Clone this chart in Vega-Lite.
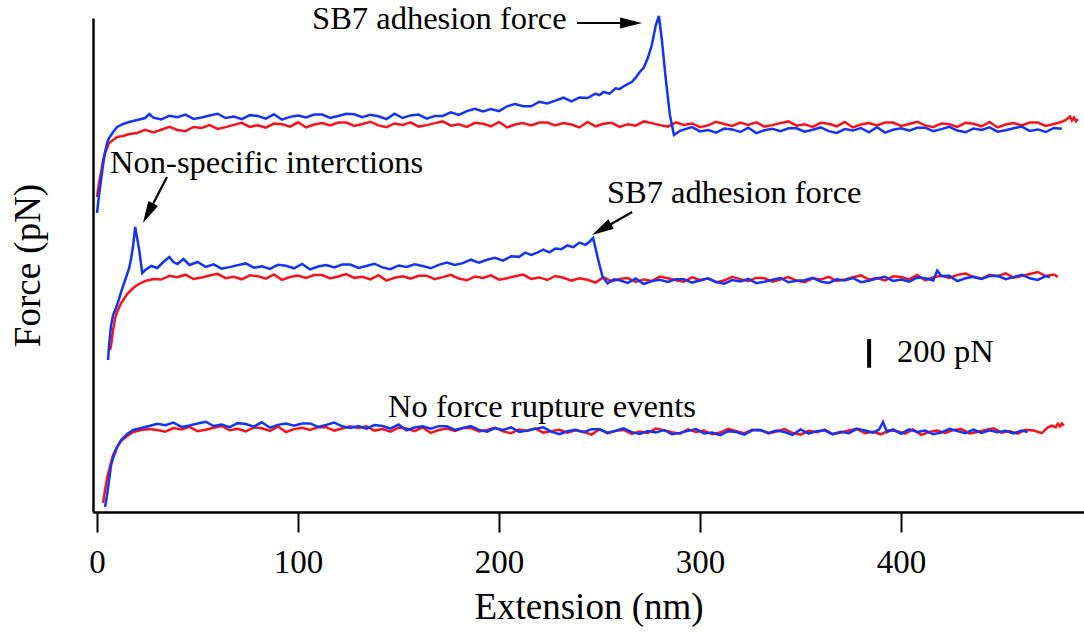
{
"$schema":"https://vega.github.io/schema/vega-lite/v6.json",
"width":991,"height":494,
"autosize":"none",
"padding":{"left":93,"top":18,"right":0,"bottom":121},
"background":"white",
"config":{"view":{"stroke":null},"font":"Liberation Serif","axis":{"grid":false}},
"datasets":{
"red":[
{"g":1,"x":0,"y":2205},{"g":1,"x":1,"y":2303},{"g":1,"x":2,"y":2380},{"g":1,"x":3,"y":2464},{"g":1,"x":4,"y":2513},{"g":1,"x":5,"y":2548},{"g":1,"x":6,"y":2583},{"g":1,"x":8,"y":2604},{"g":1,"x":10,"y":2625},{"g":1,"x":13,"y":2632},{"g":1,"x":16,"y":2646},{"g":1,"x":20,"y":2653},
{"g":1,"x":24,"y":2676},{"g":1,"x":28,"y":2657},{"g":1,"x":32,"y":2676},{"g":1,"x":36,"y":2696},{"g":1,"x":40,"y":2674},{"g":1,"x":44,"y":2666},{"g":1,"x":48,"y":2695},{"g":1,"x":52,"y":2688},{"g":1,"x":56,"y":2709},{"g":1,"x":60,"y":2682},{"g":1,"x":64,"y":2694},{"g":1,"x":68,"y":2710},{"g":1,"x":72,"y":2724},{"g":1,"x":76,"y":2696},{"g":1,"x":80,"y":2707},{"g":1,"x":84,"y":2690},{"g":1,"x":88,"y":2719},{"g":1,"x":92,"y":2714},{"g":1,"x":96,"y":2697},{"g":1,"x":100,"y":2728},
{"g":1,"x":104,"y":2692},{"g":1,"x":108,"y":2712},{"g":1,"x":112,"y":2722},{"g":1,"x":116,"y":2706},{"g":1,"x":120,"y":2726},{"g":1,"x":124,"y":2726},{"g":1,"x":128,"y":2702},{"g":1,"x":132,"y":2716},{"g":1,"x":136,"y":2732},{"g":1,"x":140,"y":2706},{"g":1,"x":144,"y":2694},{"g":1,"x":148,"y":2720},{"g":1,"x":152,"y":2710},{"g":1,"x":156,"y":2728},{"g":1,"x":160,"y":2698},{"g":1,"x":164,"y":2708},{"g":1,"x":168,"y":2722},{"g":1,"x":172,"y":2734},{"g":1,"x":176,"y":2704},{"g":1,"x":180,"y":2714},{"g":1,"x":184,"y":2696},{"g":1,"x":188,"y":2724},{"g":1,"x":192,"y":2718},{"g":1,"x":196,"y":2700},{"g":1,"x":200,"y":2730},
{"g":1,"x":204,"y":2692},{"g":1,"x":208,"y":2712},{"g":1,"x":212,"y":2722},{"g":1,"x":216,"y":2706},{"g":1,"x":220,"y":2726},{"g":1,"x":224,"y":2726},{"g":1,"x":228,"y":2706},{"g":1,"x":232,"y":2722},{"g":1,"x":236,"y":2712},{"g":1,"x":240,"y":2692},{"g":1,"x":244,"y":2730},{"g":1,"x":248,"y":2700},{"g":1,"x":252,"y":2718},{"g":1,"x":256,"y":2724},{"g":1,"x":260,"y":2696},{"g":1,"x":264,"y":2714},{"g":1,"x":268,"y":2704},{"g":1,"x":272,"y":2734},{"g":1,"x":276,"y":2722},{"g":1,"x":280,"y":2708},{"g":1,"x":284,"y":2698},{"g":1,"x":288,"y":2728},{"g":1,"x":292,"y":2710},{"g":1,"x":296,"y":2720},{"g":1,"x":300,"y":2694},
{"g":1,"x":304,"y":2706},{"g":1,"x":308,"y":2732},{"g":1,"x":312,"y":2716},{"g":1,"x":316,"y":2702},{"g":1,"x":320,"y":2726},{"g":1,"x":324,"y":2710},{"g":1,"x":328,"y":2728},{"g":1,"x":332,"y":2698},{"g":1,"x":336,"y":2708},{"g":1,"x":340,"y":2722},{"g":1,"x":344,"y":2734},{"g":1,"x":348,"y":2704},{"g":1,"x":352,"y":2714},{"g":1,"x":356,"y":2696},{"g":1,"x":360,"y":2724},{"g":1,"x":364,"y":2718},{"g":1,"x":368,"y":2700},{"g":1,"x":372,"y":2730},{"g":1,"x":376,"y":2692},{"g":1,"x":380,"y":2712},{"g":1,"x":384,"y":2722},{"g":1,"x":388,"y":2706},{"g":1,"x":392,"y":2726},{"g":1,"x":396,"y":2726},{"g":1,"x":400,"y":2702},
{"g":1,"x":404,"y":2716},{"g":1,"x":408,"y":2732},{"g":1,"x":412,"y":2706},{"g":1,"x":416,"y":2694},{"g":1,"x":420,"y":2720},{"g":1,"x":424,"y":2714},{"g":1,"x":428,"y":2696},{"g":1,"x":432,"y":2724},{"g":1,"x":436,"y":2718},{"g":1,"x":440,"y":2700},{"g":1,"x":444,"y":2730},{"g":1,"x":448,"y":2692},{"g":1,"x":452,"y":2712},{"g":1,"x":456,"y":2722},{"g":1,"x":460,"y":2706},{"g":1,"x":464,"y":2726},{"g":1,"x":468,"y":2726},{"g":1,"x":472,"y":2702},{"g":1,"x":476,"y":2716},{"g":1,"x":480,"y":2732},{"g":1,"x":482,"y":2745},{"g":1,"x":484,"y":2768},{"g":1,"x":485,"y":2740},{"g":1,"x":486,"y":2762},{"g":1,"x":487,"y":2735},{"g":1,"x":488,"y":2750},
{"g":2,"x":6.5,"y":1134},{"g":2,"x":7,"y":1169},{"g":2,"x":8,"y":1274},{"g":2,"x":9,"y":1358},{"g":2,"x":10,"y":1400},{"g":2,"x":12,"y":1463},{"g":2,"x":15,"y":1526},{"g":2,"x":18,"y":1568},{"g":2,"x":20,"y":1589},{"g":2,"x":24,"y":1617},{"g":2,"x":28,"y":1631},
{"g":2,"x":32,"y":1627},{"g":2,"x":36,"y":1653},{"g":2,"x":40,"y":1643},{"g":2,"x":44,"y":1661},{"g":2,"x":48,"y":1631},{"g":2,"x":52,"y":1641},{"g":2,"x":56,"y":1655},{"g":2,"x":60,"y":1667},{"g":2,"x":64,"y":1637},{"g":2,"x":68,"y":1647},{"g":2,"x":72,"y":1629},{"g":2,"x":76,"y":1657},{"g":2,"x":80,"y":1651},{"g":2,"x":84,"y":1633},{"g":2,"x":88,"y":1663},{"g":2,"x":92,"y":1625},{"g":2,"x":96,"y":1645},{"g":2,"x":100,"y":1655},{"g":2,"x":104,"y":1639},{"g":2,"x":108,"y":1659},{"g":2,"x":112,"y":1659},{"g":2,"x":116,"y":1635},{"g":2,"x":120,"y":1649},{"g":2,"x":124,"y":1665},{"g":2,"x":128,"y":1639},
{"g":2,"x":132,"y":1646},{"g":2,"x":136,"y":1628},{"g":2,"x":140,"y":1658},{"g":2,"x":144,"y":1620},{"g":2,"x":148,"y":1640},{"g":2,"x":152,"y":1650},{"g":2,"x":156,"y":1634},{"g":2,"x":160,"y":1654},{"g":2,"x":164,"y":1654},{"g":2,"x":168,"y":1630},{"g":2,"x":172,"y":1644},{"g":2,"x":176,"y":1660},{"g":2,"x":180,"y":1634},{"g":2,"x":184,"y":1622},{"g":2,"x":188,"y":1648},{"g":2,"x":192,"y":1638},{"g":2,"x":196,"y":1656},{"g":2,"x":200,"y":1626},{"g":2,"x":204,"y":1636},{"g":2,"x":208,"y":1650},{"g":2,"x":212,"y":1662},{"g":2,"x":216,"y":1632},{"g":2,"x":220,"y":1642},{"g":2,"x":224,"y":1624},{"g":2,"x":228,"y":1652},
{"g":2,"x":232,"y":1640},{"g":2,"x":236,"y":1620},{"g":2,"x":240,"y":1636},{"g":2,"x":244,"y":1626},{"g":2,"x":248,"y":1606},{"g":2,"x":252,"y":1644},{"g":2,"x":256,"y":1614},{"g":2,"x":260,"y":1632},{"g":2,"x":264,"y":1638},{"g":2,"x":268,"y":1610},{"g":2,"x":272,"y":1628},{"g":2,"x":276,"y":1618},{"g":2,"x":280,"y":1648},{"g":2,"x":284,"y":1636},{"g":2,"x":288,"y":1622},{"g":2,"x":292,"y":1612},{"g":2,"x":296,"y":1642},{"g":2,"x":300,"y":1624},{"g":2,"x":304,"y":1634},{"g":2,"x":308,"y":1608},{"g":2,"x":312,"y":1620},{"g":2,"x":316,"y":1646},{"g":2,"x":320,"y":1630},{"g":2,"x":324,"y":1616},{"g":2,"x":328,"y":1640},
{"g":2,"x":332,"y":1636},{"g":2,"x":336,"y":1613},{"g":2,"x":340,"y":1628},{"g":2,"x":344,"y":1645},{"g":2,"x":348,"y":1620},{"g":2,"x":352,"y":1609},{"g":2,"x":356,"y":1636},{"g":2,"x":360,"y":1627},{"g":2,"x":364,"y":1646},{"g":2,"x":368,"y":1617},{"g":2,"x":372,"y":1628},{"g":2,"x":376,"y":1643},{"g":2,"x":380,"y":1656},{"g":2,"x":384,"y":1627},{"g":2,"x":388,"y":1638},{"g":2,"x":392,"y":1621},{"g":2,"x":396,"y":1650},{"g":2,"x":400,"y":1645},{"g":2,"x":404,"y":1628},{"g":2,"x":408,"y":1659},{"g":2,"x":412,"y":1622},{"g":2,"x":416,"y":1643},{"g":2,"x":420,"y":1654},{"g":2,"x":424,"y":1639},{"g":2,"x":428,"y":1660},
{"g":2,"x":432,"y":1670},{"g":2,"x":436,"y":1645},{"g":2,"x":440,"y":1634},{"g":2,"x":444,"y":1660},{"g":2,"x":448,"y":1651},{"g":2,"x":452,"y":1670},{"g":2,"x":456,"y":1641},{"g":2,"x":460,"y":1652},{"g":2,"x":464,"y":1666},{"g":2,"x":468,"y":1680},{"g":2,"x":472,"y":1652},{"g":2,"x":476,"y":1662},{"g":2,"x":478,"y":1646},
{"g":3,"x":3,"y":63},{"g":3,"x":4,"y":154},{"g":3,"x":5,"y":238},{"g":3,"x":6,"y":294},{"g":3,"x":7,"y":350},{"g":3,"x":8,"y":399},{"g":3,"x":10,"y":455},{"g":3,"x":12,"y":497},{"g":3,"x":15,"y":532},{"g":3,"x":18,"y":560},{"g":3,"x":22,"y":574},{"g":3,"x":26,"y":581},
{"g":3,"x":30,"y":574},{"g":3,"x":34,"y":562},{"g":3,"x":38,"y":588},{"g":3,"x":42,"y":578},{"g":3,"x":46,"y":596},{"g":3,"x":50,"y":566},{"g":3,"x":54,"y":576},{"g":3,"x":58,"y":590},{"g":3,"x":62,"y":602},{"g":3,"x":66,"y":572},{"g":3,"x":70,"y":582},{"g":3,"x":74,"y":564},{"g":3,"x":78,"y":592},{"g":3,"x":82,"y":586},{"g":3,"x":86,"y":568},{"g":3,"x":90,"y":598},{"g":3,"x":94,"y":560},{"g":3,"x":98,"y":580},{"g":3,"x":102,"y":590},{"g":3,"x":106,"y":574},{"g":3,"x":110,"y":594},{"g":3,"x":114,"y":594},{"g":3,"x":118,"y":570},{"g":3,"x":122,"y":584},{"g":3,"x":126,"y":600},
{"g":3,"x":130,"y":588},{"g":3,"x":134,"y":600},{"g":3,"x":138,"y":570},{"g":3,"x":142,"y":580},{"g":3,"x":146,"y":562},{"g":3,"x":150,"y":590},{"g":3,"x":154,"y":584},{"g":3,"x":158,"y":566},{"g":3,"x":162,"y":592},{"g":3,"x":166,"y":554},{"g":3,"x":170,"y":574},{"g":3,"x":174,"y":584},{"g":3,"x":178,"y":568},{"g":3,"x":182,"y":588},{"g":3,"x":186,"y":588},{"g":3,"x":190,"y":564},{"g":3,"x":194,"y":574},{"g":3,"x":198,"y":590},{"g":3,"x":202,"y":564},{"g":3,"x":206,"y":552},{"g":3,"x":210,"y":578},{"g":3,"x":214,"y":568},{"g":3,"x":218,"y":586},{"g":3,"x":222,"y":556},{"g":3,"x":226,"y":566},
{"g":3,"x":230,"y":576},{"g":3,"x":234,"y":556},{"g":3,"x":238,"y":572},{"g":3,"x":242,"y":562},{"g":3,"x":246,"y":542},{"g":3,"x":250,"y":580},{"g":3,"x":254,"y":550},{"g":3,"x":258,"y":568},{"g":3,"x":262,"y":574},{"g":3,"x":266,"y":546},{"g":3,"x":270,"y":564},{"g":3,"x":274,"y":554},{"g":3,"x":278,"y":584},{"g":3,"x":282,"y":572},{"g":3,"x":286,"y":558},{"g":3,"x":290,"y":548},{"g":3,"x":294,"y":578},{"g":3,"x":298,"y":560},{"g":3,"x":302,"y":570},{"g":3,"x":306,"y":544},{"g":3,"x":310,"y":556},{"g":3,"x":314,"y":582},{"g":3,"x":318,"y":566},{"g":3,"x":322,"y":552},{"g":3,"x":326,"y":576},
{"g":3,"x":330,"y":574},{"g":3,"x":334,"y":550},{"g":3,"x":338,"y":564},{"g":3,"x":342,"y":580},{"g":3,"x":346,"y":554},{"g":3,"x":350,"y":542},{"g":3,"x":354,"y":568},{"g":3,"x":358,"y":558},{"g":3,"x":362,"y":576},{"g":3,"x":366,"y":546},{"g":3,"x":370,"y":556},{"g":3,"x":374,"y":570},{"g":3,"x":378,"y":582},{"g":3,"x":382,"y":552},{"g":3,"x":386,"y":562},{"g":3,"x":390,"y":544},{"g":3,"x":394,"y":572},{"g":3,"x":398,"y":566},{"g":3,"x":402,"y":548},{"g":3,"x":406,"y":578},{"g":3,"x":410,"y":540},{"g":3,"x":414,"y":560},{"g":3,"x":418,"y":570},{"g":3,"x":422,"y":554},{"g":3,"x":426,"y":574},
{"g":3,"x":430,"y":580},{"g":3,"x":434,"y":550},{"g":3,"x":438,"y":560},{"g":3,"x":442,"y":574},{"g":3,"x":446,"y":586},{"g":3,"x":450,"y":556},{"g":3,"x":454,"y":566},{"g":3,"x":458,"y":548},{"g":3,"x":462,"y":576},{"g":3,"x":466,"y":570},{"g":3,"x":470,"y":552},{"g":3,"x":473,"y":592},{"g":3,"x":475,"y":604},{"g":3,"x":477,"y":594},{"g":3,"x":478,"y":618},{"g":3,"x":479,"y":600},{"g":3,"x":480,"y":620},{"g":3,"x":481,"y":605}
],
"blue":[
{"g":1,"x":0,"y":2093},{"g":1,"x":1,"y":2219},{"g":1,"x":2,"y":2324},{"g":1,"x":3,"y":2429},{"g":1,"x":4,"y":2520},{"g":1,"x":5,"y":2583},{"g":1,"x":6,"y":2618},{"g":1,"x":8,"y":2660},{"g":1,"x":10,"y":2695},{"g":1,"x":13,"y":2716},{"g":1,"x":16,"y":2730},{"g":1,"x":20,"y":2744},{"g":1,"x":24,"y":2758},
{"g":1,"x":26,"y":2786},{"g":1,"x":28,"y":2760},{"g":1,"x":32,"y":2748},{"g":1,"x":36,"y":2774},{"g":1,"x":40,"y":2764},{"g":1,"x":44,"y":2782},{"g":1,"x":48,"y":2752},{"g":1,"x":52,"y":2762},{"g":1,"x":56,"y":2776},{"g":1,"x":60,"y":2788},{"g":1,"x":64,"y":2758},{"g":1,"x":68,"y":2768},{"g":1,"x":72,"y":2750},{"g":1,"x":76,"y":2778},{"g":1,"x":80,"y":2772},{"g":1,"x":84,"y":2754},{"g":1,"x":88,"y":2784},{"g":1,"x":92,"y":2746},{"g":1,"x":96,"y":2766},{"g":1,"x":100,"y":2776},{"g":1,"x":104,"y":2762},{"g":1,"x":108,"y":2782},{"g":1,"x":112,"y":2782},{"g":1,"x":116,"y":2758},{"g":1,"x":120,"y":2772},{"g":1,"x":124,"y":2788},
{"g":1,"x":128,"y":2784},{"g":1,"x":132,"y":2764},{"g":1,"x":136,"y":2780},{"g":1,"x":140,"y":2770},{"g":1,"x":144,"y":2750},{"g":1,"x":148,"y":2788},{"g":1,"x":152,"y":2758},{"g":1,"x":156,"y":2776},{"g":1,"x":160,"y":2782},{"g":1,"x":164,"y":2754},{"g":1,"x":168,"y":2772},
{"g":1,"x":172,"y":2772},{"g":1,"x":176,"y":2798},{"g":1,"x":180,"y":2779},{"g":1,"x":184,"y":2806},{"g":1,"x":188,"y":2823},{"g":1,"x":192,"y":2804},{"g":1,"x":196,"y":2820},{"g":1,"x":200,"y":2806},{"g":1,"x":204,"y":2840},{"g":1,"x":208,"y":2856},{"g":1,"x":212,"y":2840},{"g":1,"x":216,"y":2840},{"g":1,"x":220,"y":2872},{"g":1,"x":224,"y":2860},{"g":1,"x":228,"y":2880},{"g":1,"x":232,"y":2900},{"g":1,"x":236,"y":2874},{"g":1,"x":240,"y":2902},{"g":1,"x":244,"y":2898},{"g":1,"x":248,"y":2928},{"g":1,"x":250,"y":2918},{"g":1,"x":252,"y":2940},{"g":1,"x":255,"y":2928},{"g":1,"x":258,"y":2966},{"g":1,"x":260,"y":2960},
{"g":1,"x":262,"y":2980},{"g":1,"x":264,"y":2995},{"g":1,"x":266,"y":3010},{"g":1,"x":268,"y":3040},{"g":1,"x":270,"y":3080},{"g":1,"x":272,"y":3110},{"g":1,"x":274,"y":3178},{"g":1,"x":276,"y":3269},{"g":1,"x":278,"y":3409},{"g":1,"x":279.5,"y":3472},{"g":1,"x":281,"y":3304},{"g":1,"x":283,"y":3024},{"g":1,"x":285,"y":2779},{"g":1,"x":287,"y":2639},
{"g":1,"x":290,"y":2668},{"g":1,"x":293,"y":2682},{"g":1,"x":296,"y":2694},{"g":1,"x":300,"y":2664},{"g":1,"x":304,"y":2674},{"g":1,"x":308,"y":2656},{"g":1,"x":312,"y":2684},{"g":1,"x":316,"y":2678},{"g":1,"x":320,"y":2660},{"g":1,"x":324,"y":2690},{"g":1,"x":328,"y":2652},{"g":1,"x":332,"y":2672},{"g":1,"x":336,"y":2682},{"g":1,"x":340,"y":2666},{"g":1,"x":344,"y":2686},{"g":1,"x":348,"y":2686},{"g":1,"x":352,"y":2662},{"g":1,"x":356,"y":2676},{"g":1,"x":360,"y":2692},{"g":1,"x":364,"y":2666},{"g":1,"x":368,"y":2654},{"g":1,"x":372,"y":2680},{"g":1,"x":376,"y":2670},{"g":1,"x":380,"y":2688},{"g":1,"x":384,"y":2658},
{"g":1,"x":388,"y":2694},{"g":1,"x":392,"y":2656},{"g":1,"x":396,"y":2676},{"g":1,"x":400,"y":2686},{"g":1,"x":404,"y":2670},{"g":1,"x":408,"y":2690},{"g":1,"x":412,"y":2690},{"g":1,"x":416,"y":2666},{"g":1,"x":420,"y":2680},{"g":1,"x":424,"y":2696},{"g":1,"x":428,"y":2670},{"g":1,"x":432,"y":2658},{"g":1,"x":436,"y":2684},{"g":1,"x":440,"y":2674},{"g":1,"x":444,"y":2692},{"g":1,"x":448,"y":2662},{"g":1,"x":452,"y":2672},{"g":1,"x":456,"y":2686},{"g":1,"x":460,"y":2698},{"g":1,"x":464,"y":2668},{"g":1,"x":468,"y":2678},{"g":1,"x":472,"y":2660},{"g":1,"x":476,"y":2688},{"g":1,"x":480,"y":2682},
{"g":2,"x":5.5,"y":1064},{"g":2,"x":6,"y":1169},{"g":2,"x":7,"y":1309},{"g":2,"x":8,"y":1379},{"g":2,"x":10,"y":1449},{"g":2,"x":12,"y":1540},{"g":2,"x":14,"y":1624},{"g":2,"x":16,"y":1708},{"g":2,"x":17,"y":1778},{"g":2,"x":18,"y":1869},{"g":2,"x":19,"y":1995},{"g":2,"x":21,"y":1834},{"g":2,"x":22.5,"y":1673},{"g":2,"x":24,"y":1694},{"g":2,"x":27,"y":1722},{"g":2,"x":30,"y":1708},{"g":2,"x":33,"y":1750},{"g":2,"x":36,"y":1785},{"g":2,"x":38,"y":1750},{"g":2,"x":40,"y":1736},{"g":2,"x":43,"y":1771},{"g":2,"x":46,"y":1729},{"g":2,"x":50,"y":1750},
{"g":2,"x":54,"y":1716},{"g":2,"x":58,"y":1734},{"g":2,"x":62,"y":1704},{"g":2,"x":66,"y":1714},{"g":2,"x":70,"y":1728},{"g":2,"x":74,"y":1740},{"g":2,"x":78,"y":1710},{"g":2,"x":82,"y":1720},{"g":2,"x":86,"y":1702},{"g":2,"x":90,"y":1730},{"g":2,"x":94,"y":1724},{"g":2,"x":98,"y":1706},{"g":2,"x":102,"y":1736},{"g":2,"x":106,"y":1698},{"g":2,"x":110,"y":1718},{"g":2,"x":114,"y":1728},{"g":2,"x":118,"y":1712},{"g":2,"x":122,"y":1732},{"g":2,"x":126,"y":1732},{"g":2,"x":130,"y":1708},{"g":2,"x":134,"y":1722},{"g":2,"x":138,"y":1738},{"g":2,"x":142,"y":1712},{"g":2,"x":146,"y":1700},{"g":2,"x":150,"y":1726},{"g":2,"x":154,"y":1716},{"g":2,"x":158,"y":1734},
{"g":2,"x":162,"y":1722},{"g":2,"x":166,"y":1706},{"g":2,"x":170,"y":1730},{"g":2,"x":174,"y":1746},{"g":2,"x":178,"y":1730},{"g":2,"x":182,"y":1742},{"g":2,"x":186,"y":1766},{"g":2,"x":190,"y":1746},{"g":2,"x":194,"y":1766},{"g":2,"x":198,"y":1780},{"g":2,"x":202,"y":1760},{"g":2,"x":206,"y":1790},{"g":2,"x":210,"y":1786},{"g":2,"x":213,"y":1816},{"g":2,"x":216,"y":1800},{"g":2,"x":219,"y":1816},{"g":2,"x":222,"y":1836},{"g":2,"x":225,"y":1818},{"g":2,"x":228,"y":1844},{"g":2,"x":231,"y":1840},{"g":2,"x":234,"y":1866},{"g":2,"x":237,"y":1854},{"g":2,"x":240,"y":1886},{"g":2,"x":243,"y":1870},{"g":2,"x":245,"y":1892},{"g":2,"x":246.8,"y":1918},{"g":2,"x":249,"y":1785},{"g":2,"x":251.5,"y":1645},
{"g":2,"x":254,"y":1600},{"g":2,"x":257,"y":1628},{"g":2,"x":260,"y":1622},{"g":2,"x":264,"y":1604},{"g":2,"x":268,"y":1634},{"g":2,"x":272,"y":1596},{"g":2,"x":276,"y":1616},{"g":2,"x":280,"y":1626},{"g":2,"x":284,"y":1610},{"g":2,"x":288,"y":1630},{"g":2,"x":292,"y":1630},{"g":2,"x":296,"y":1606},{"g":2,"x":300,"y":1620},{"g":2,"x":304,"y":1636},{"g":2,"x":308,"y":1610},{"g":2,"x":312,"y":1598},{"g":2,"x":316,"y":1624},{"g":2,"x":320,"y":1614},{"g":2,"x":324,"y":1632},{"g":2,"x":328,"y":1602},{"g":2,"x":332,"y":1612},{"g":2,"x":336,"y":1626},{"g":2,"x":340,"y":1638},{"g":2,"x":344,"y":1608},{"g":2,"x":348,"y":1618},
{"g":2,"x":352,"y":1622},{"g":2,"x":356,"y":1639},{"g":2,"x":360,"y":1614},{"g":2,"x":364,"y":1603},{"g":2,"x":368,"y":1629},{"g":2,"x":372,"y":1620},{"g":2,"x":376,"y":1638},{"g":2,"x":380,"y":1609},{"g":2,"x":384,"y":1619},{"g":2,"x":388,"y":1634},{"g":2,"x":392,"y":1646},{"g":2,"x":396,"y":1618},{"g":2,"x":400,"y":1628},{"g":2,"x":404,"y":1612},{"g":2,"x":408,"y":1641},{"g":2,"x":412,"y":1636},{"g":2,"x":416,"y":1620},{"g":2,"x":418,"y":1690},{"g":2,"x":420,"y":1652},
{"g":2,"x":424,"y":1653},{"g":2,"x":428,"y":1616},{"g":2,"x":432,"y":1636},{"g":2,"x":436,"y":1647},{"g":2,"x":440,"y":1632},{"g":2,"x":444,"y":1652},{"g":2,"x":448,"y":1653},{"g":2,"x":452,"y":1630},{"g":2,"x":456,"y":1644},{"g":2,"x":460,"y":1661},{"g":2,"x":464,"y":1636},{"g":2,"x":468,"y":1625},{"g":2,"x":472,"y":1652},{"g":2,"x":474,"y":1643},
{"g":3,"x":4,"y":35},{"g":3,"x":5,"y":119},{"g":3,"x":6,"y":224},{"g":3,"x":7,"y":329},{"g":3,"x":8,"y":378},{"g":3,"x":10,"y":455},{"g":3,"x":12,"y":504},{"g":3,"x":15,"y":546},{"g":3,"x":18,"y":574},{"g":3,"x":22,"y":588},{"g":3,"x":26,"y":602},
{"g":3,"x":30,"y":618},{"g":3,"x":34,"y":608},{"g":3,"x":38,"y":626},{"g":3,"x":42,"y":596},{"g":3,"x":46,"y":606},{"g":3,"x":50,"y":620},{"g":3,"x":54,"y":632},{"g":3,"x":58,"y":602},{"g":3,"x":62,"y":612},{"g":3,"x":66,"y":594},{"g":3,"x":70,"y":622},{"g":3,"x":74,"y":616},{"g":3,"x":78,"y":598},{"g":3,"x":82,"y":628},{"g":3,"x":86,"y":590},{"g":3,"x":90,"y":610},{"g":3,"x":94,"y":620},{"g":3,"x":98,"y":604},{"g":3,"x":102,"y":620},{"g":3,"x":106,"y":620},{"g":3,"x":110,"y":596},{"g":3,"x":114,"y":610},{"g":3,"x":118,"y":626},{"g":3,"x":122,"y":600},{"g":3,"x":126,"y":588},
{"g":3,"x":130,"y":602},{"g":3,"x":134,"y":583},{"g":3,"x":138,"y":609},{"g":3,"x":142,"y":602},{"g":3,"x":146,"y":583},{"g":3,"x":150,"y":612},{"g":3,"x":154,"y":572},{"g":3,"x":158,"y":591},{"g":3,"x":162,"y":600},{"g":3,"x":166,"y":583},{"g":3,"x":170,"y":601},{"g":3,"x":174,"y":600},{"g":3,"x":178,"y":575},{"g":3,"x":182,"y":588},{"g":3,"x":186,"y":602},{"g":3,"x":190,"y":575},{"g":3,"x":194,"y":562},{"g":3,"x":198,"y":587},{"g":3,"x":202,"y":575},{"g":3,"x":206,"y":592},{"g":3,"x":210,"y":561},{"g":3,"x":214,"y":570},{"g":3,"x":218,"y":582},{"g":3,"x":222,"y":593},{"g":3,"x":226,"y":562},
{"g":3,"x":230,"y":545},{"g":3,"x":234,"y":565},{"g":3,"x":238,"y":575},{"g":3,"x":242,"y":559},{"g":3,"x":246,"y":579},{"g":3,"x":250,"y":579},{"g":3,"x":254,"y":555},{"g":3,"x":258,"y":569},{"g":3,"x":262,"y":585},{"g":3,"x":266,"y":559},{"g":3,"x":270,"y":547},{"g":3,"x":274,"y":566},{"g":3,"x":278,"y":556},{"g":3,"x":282,"y":574},{"g":3,"x":286,"y":544},{"g":3,"x":290,"y":554},{"g":3,"x":294,"y":568},{"g":3,"x":298,"y":580},{"g":3,"x":302,"y":550},{"g":3,"x":306,"y":556},{"g":3,"x":310,"y":538},{"g":3,"x":314,"y":566},{"g":3,"x":318,"y":560},{"g":3,"x":322,"y":542},{"g":3,"x":326,"y":572},
{"g":3,"x":330,"y":574},{"g":3,"x":334,"y":554},{"g":3,"x":338,"y":570},{"g":3,"x":342,"y":560},{"g":3,"x":346,"y":540},{"g":3,"x":350,"y":578},{"g":3,"x":354,"y":548},{"g":3,"x":358,"y":566},{"g":3,"x":362,"y":572},{"g":3,"x":366,"y":544},{"g":3,"x":370,"y":562},{"g":3,"x":374,"y":552},{"g":3,"x":378,"y":582},{"g":3,"x":382,"y":570},{"g":3,"x":386,"y":556},{"g":3,"x":389,"y":576},{"g":3,"x":391,"y":630},{"g":3,"x":393,"y":560},{"g":3,"x":396,"y":578},
{"g":3,"x":400,"y":548},{"g":3,"x":404,"y":578},{"g":3,"x":408,"y":560},{"g":3,"x":412,"y":570},{"g":3,"x":416,"y":544},{"g":3,"x":420,"y":556},{"g":3,"x":424,"y":582},{"g":3,"x":428,"y":566},{"g":3,"x":432,"y":552},{"g":3,"x":436,"y":576},{"g":3,"x":440,"y":554},{"g":3,"x":444,"y":572},{"g":3,"x":448,"y":558},{"g":3,"x":452,"y":568},{"g":3,"x":456,"y":550},{"g":3,"x":460,"y":570},{"g":3,"x":463,"y":560}
],
"notes":[
{"t":"SB7 adhesion force","x":107,"y":3381},
{"t":"Non-specific interctions","x":6.5,"y":2373},
{"t":"SB7 adhesion force","x":253.7,"y":2163},
{"t":"No force rupture events","x":144.8,"y":665},
{"t":"200 pN","x":398,"y":1050}
],
"arrows":[
{"x":238.8,"y":3423,"x2":262.7,"y2":3423},
{"x":34.8,"y":2345,"x2":26.6,"y2":2122},
{"x":266.2,"y":2100,"x2":253.2,"y2":1995}
],
"bar":[{"x":384.1,"y":1010,"y2":1210}]
},
"layer":[
{"data":{"name":"red"},"mark":{"type":"line","color":"#f4141c","strokeWidth":2.5},
 "encoding":{
  "x":{"field":"x","type":"quantitative","scale":{"domain":[-2,491],"nice":false,"zero":false},"title":"Extension (nm)",
   "axis":{"values":[0,100,200,300,400],"domainWidth":2.5,"domainColor":"black","tickColor":"black","tickWidth":2,"tickSize":20,"labelFontSize":33,"labelFont":"Liberation Serif","labelColor":"black","labelPadding":14,"labelFlush":false,"titleFontSize":37,"titleFont":"Liberation Serif","titleFontWeight":"normal","titleColor":"black","titlePadding":10,"grid":false}},
  "y":{"field":"y","type":"quantitative","scale":{"domain":[0,3458],"nice":false},"title":"Force (pN)",
   "axis":{"labels":false,"ticks":false,"domainWidth":2.5,"domainColor":"black","titleFontSize":37,"titleFont":"Liberation Serif","titleFontWeight":"normal","titleColor":"black","titlePadding":46,"grid":false}},
  "detail":{"field":"g","type":"nominal"}}},
{"data":{"name":"blue"},"mark":{"type":"line","color":"#1434f0","strokeWidth":2.5},
 "encoding":{"x":{"field":"x","type":"quantitative"},"y":{"field":"y","type":"quantitative"},"detail":{"field":"g","type":"nominal"}}},
{"data":{"name":"arrows"},"mark":{"type":"rule","color":"black","strokeWidth":2.2},
 "encoding":{"x":{"field":"x","type":"quantitative"},"y":{"field":"y","type":"quantitative"},"x2":{"field":"x2"},"y2":{"field":"y2"}}},
{"data":{"values":[{"x":265.7,"y":3423}]},"mark":{"type":"point","shape":"M-1,-0.5L1,0L-1,0.5Z","filled":true,"color":"black","opacity":1,"size":484,"angle":0},
 "encoding":{"x":{"field":"x","type":"quantitative"},"y":{"field":"y","type":"quantitative"}}},
{"data":{"values":[{"x":25.4,"y":2091}]},"mark":{"type":"point","shape":"M-1,-0.5L1,0L-1,0.5Z","filled":true,"color":"black","opacity":1,"size":484,"angle":117.5},
 "encoding":{"x":{"field":"x","type":"quantitative"},"y":{"field":"y","type":"quantitative"}}},
{"data":{"values":[{"x":251.0,"y":1977}]},"mark":{"type":"point","shape":"M-1,-0.5L1,0L-1,0.5Z","filled":true,"color":"black","opacity":1,"size":484,"angle":150.1},
 "encoding":{"x":{"field":"x","type":"quantitative"},"y":{"field":"y","type":"quantitative"}}},
{"data":{"name":"bar"},"mark":{"type":"rule","color":"black","strokeWidth":4},
 "encoding":{"x":{"field":"x","type":"quantitative"},"y":{"field":"y","type":"quantitative"},"y2":{"field":"y2"}}},
{"data":{"name":"notes"},"mark":{"type":"text","align":"left","baseline":"alphabetic","font":"Liberation Serif","fontSize":32.5,"color":"black"},
 "encoding":{"x":{"field":"x","type":"quantitative"},"y":{"field":"y","type":"quantitative"},"text":{"field":"t"}}}
]
}
